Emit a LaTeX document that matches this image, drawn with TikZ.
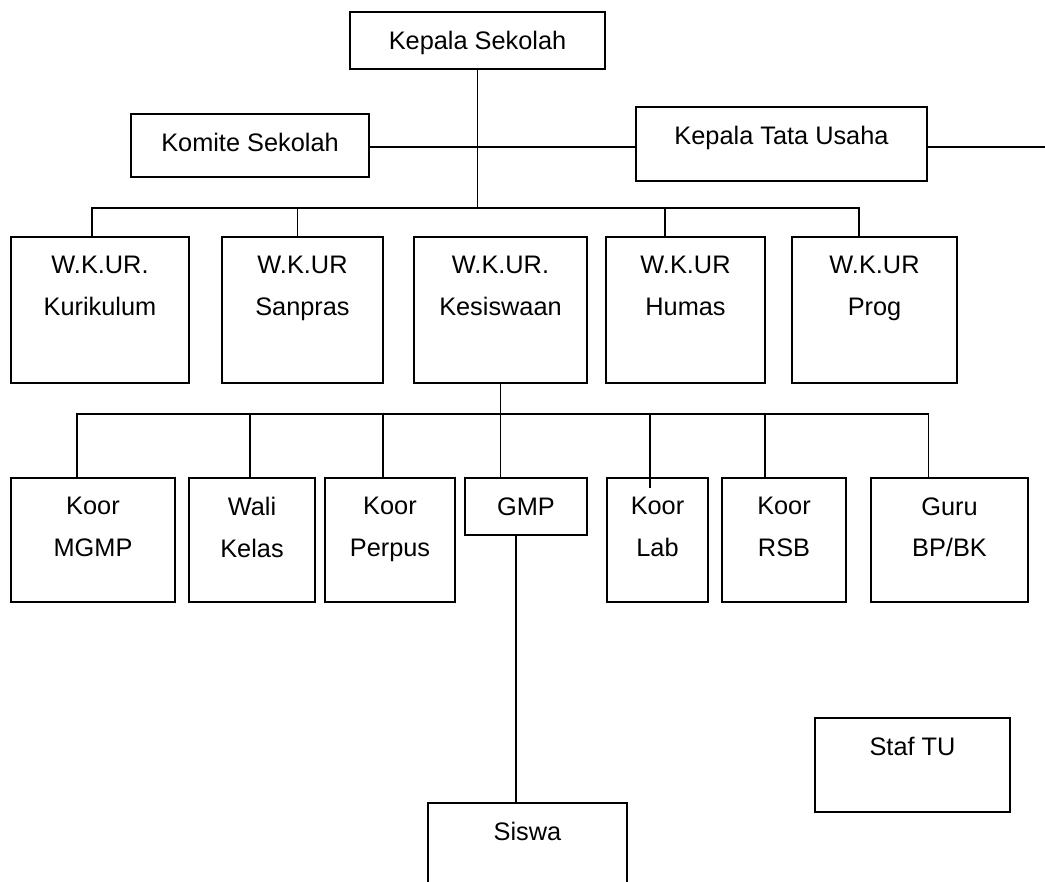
\documentclass[tikz,border=0pt]{standalone}
\usepackage{fontspec}
\setmainfont{Liberation Sans}
\usetikzlibrary{positioning,fit}
\tikzset{kotak/.style={draw, line width=1.2pt, inner sep=0pt},
        teks/.style={inner sep=0pt, align=center, font=\fontsize{19}{31}\selectfont},
        garis/.style={draw, line width=0.9pt},
        }

\begin{document}
\begin{tikzpicture}[x=0.75pt,y=-0.75pt]
    \clip (0,0) rectangle (1045,881);

    \node[kotak, fit={(350,12) (605,69)}] (kepsek) {};
    \node[teks, below=15pt of kepsek.north] (kepsekT) {Kepala Sekolah};
    \node[kotak, fit={(131,114) (369,177)}] (komite) {};
    \node[teks, below=15pt of komite.north] (komiteT) {Komite Sekolah};
    \node[kotak, fit={(636,107) (927,181)}] (ktu) {};
    \node[teks, below=15pt of ktu.north] (ktuT) {Kepala Tata Usaha};

    \node[kotak, fit={(11,237) (189,383)}] (wkKur) {};
    \node[teks, below=15pt of wkKur.north] (wkKurT) {W.K.UR.\\Kurikulum};
    \node[kotak, fit={(222,237) (383,383)}] (wkSan) {};
    \node[teks, below=15pt of wkSan.north] (wkSanT) {W.K.UR\\Sanpras};
    \node[kotak, fit={(414,237) (587,383)}] (wkKes) {};
    \node[teks, below=15pt of wkKes.north] (wkKesT) {W.K.UR.\\Kesiswaan};
    \node[kotak, fit={(606,237) (765,383)}] (wkHum) {};
    \node[teks, below=15pt of wkHum.north] (wkHumT) {W.K.UR\\Humas};
    \node[kotak, fit={(792,237) (957,383)}] (wkProg) {};
    \node[teks, below=15pt of wkProg.north] (wkProgT) {W.K.UR\\Prog};

    \node[kotak, fit={(11,478) (175,602)}] (kMGMP) {};
    \node[teks, below=15pt of kMGMP.north] (kMGMPT) {Koor\\MGMP};
    \node[kotak, fit={(189,478) (315,602)}] (wali) {};
    \node[teks, below=15pt of wali.north] (waliT) {Wali\\Kelas};
    \node[kotak, fit={(325,478) (455,602)}] (kPerpus) {};
    \node[teks, below=15pt of kPerpus.north] (kPerpusT) {Koor\\Perpus};
    \node[kotak, fit={(465,478) (587,535)}] (gmp) {};
    \node[teks, below=15pt of gmp.north] (gmpT) {GMP};
    \node[kotak, fit={(607,478) (708,602)}] (kLab) {};
    \node[teks, below=15pt of kLab.north] (kLabT) {Koor\\Lab};
    \node[kotak, fit={(722,478) (846,602)}] (kRSB) {};
    \node[teks, below=15pt of kRSB.north] (kRSBT) {Koor\\RSB};
    \node[kotak, fit={(871,478) (1028,602)}] (bk) {};
    \node[teks, below=15pt of bk.north] (bkT) {Guru\\BP/BK};

    \node[kotak, fit={(815,718) (1010,812)}] (staf) {};
    \node[teks, below=15pt of staf.north] (stafT) {Staf TU};
    \node[kotak, fit={(428,803) (627,900)}] (siswa) {};
    \node[teks, below=15pt of siswa.north] (siswaT) {Siswa};

    \coordinate (cabang) at (kepsek.south |- 0,147);
    \coordinate (bus1) at (kepsek.south |- 0,208);
    \coordinate (ujung) at (1045,147);
    \draw[garis] (kepsek.south) -- (bus1);
    \draw[garis] (komite.east |- cabang) -- (ktu.west |- cabang);
    \draw[garis] (ktu.east |- cabang) -- (ujung);

    \draw[garis] ([xshift=-6pt]wkKur.north) |- (bus1) -| ([xshift=-11.6pt]wkProg.north);
    \draw[garis] ([xshift=-4pt]wkSan.north) -- ([xshift=-4pt]wkSan.north |- bus1);
    \draw[garis] ([xshift=-15.4pt]wkHum.north) -- ([xshift=-15.4pt]wkHum.north |- bus1);

    \coordinate (bus2) at (wkKes.south |- 0,414);
    \draw[garis] (wkKes.south) -- (wkKes.south |- gmp.north);
    \draw[garis] ([xshift=-12pt]kMGMP.north) |- (bus2) -| ([xshift=-16pt]bk.north);
    \draw[garis] ([xshift=-1.5pt]wali.north) -- ([xshift=-1.5pt]wali.north |- bus2);
    \draw[garis] ([xshift=-5.25pt]kPerpus.north) -- ([xshift=-5.25pt]kPerpus.north |- bus2);
    \draw[garis] ([xshift=-5.6pt,yshift=-8.25pt]kLab.north) -- ([xshift=-5.6pt]kLab.north |- bus2);
    \draw[garis] ([xshift=-14.25pt]kRSB.north) -- ([xshift=-14.25pt]kRSB.north |- bus2);

    \draw[garis] ([xshift=-7.5pt]gmp.south) -- ([xshift=-7.5pt]gmp.south |- siswa.north);
\end{tikzpicture}
\end{document}
